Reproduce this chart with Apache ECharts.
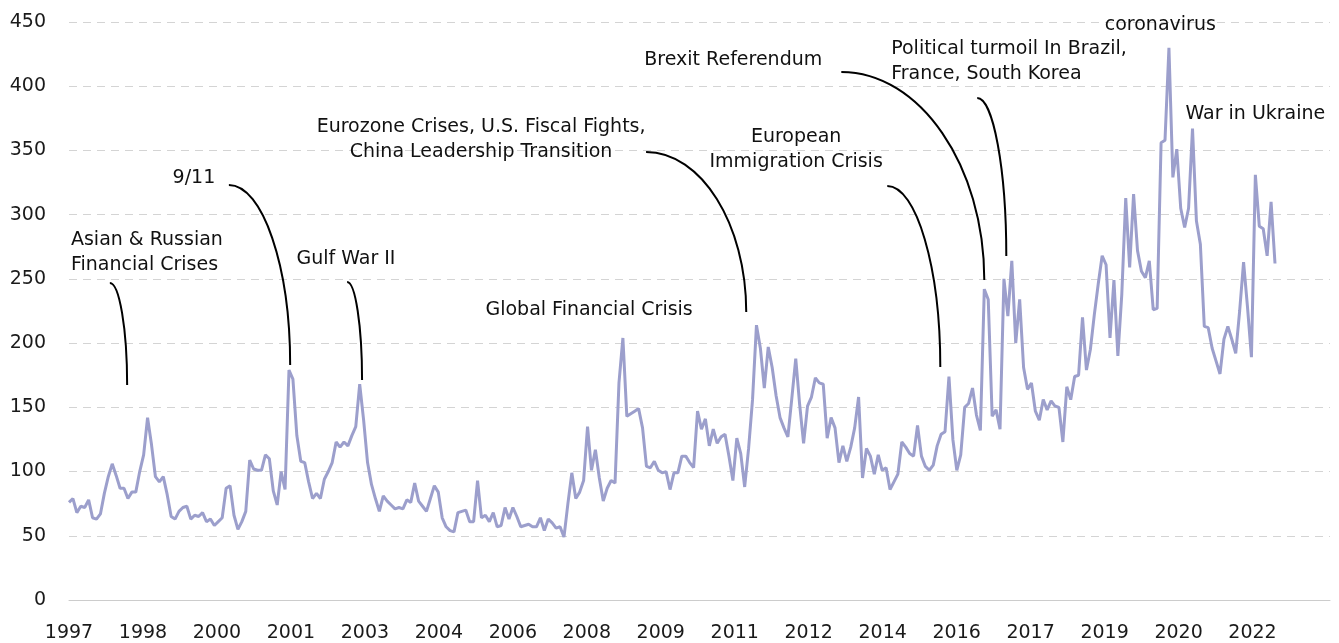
<!DOCTYPE html>
<html>
<head>
<meta charset="utf-8">
<script src="https://cdn.jsdelivr.net/npm/echarts@6/dist/echarts.min.js"></script>
<style>
  html, body { margin: 0; padding: 0; background: #fff; }
  #chart { width: 1339px; height: 643px; }
</style>
</head>
<body>
<div id="chart"></div>
<script>
// monthly index values, first entry = Jan 1997
const values = [
  76, 79, 68, 73, 72, 78, 64, 63, 67, 83,
  96, 106, 97, 87, 87, 79, 84, 84, 100, 113,
  142, 121, 96, 92, 96, 82, 65, 63, 69, 72,
  73, 63, 66, 65, 68, 61, 63, 58, 61, 64,
  87, 89, 66, 55, 61, 69, 109, 102, 101, 101,
  113, 110, 85, 74, 100, 86, 179, 172, 128, 108,
  107, 92, 79, 83, 79, 94, 100, 107, 123, 119,
  123, 120, 128, 135, 168, 140, 107, 90, 79, 69,
  81, 77, 74, 71, 72, 71, 78, 76, 91, 77,
  73, 69, 79, 89, 84, 64, 57, 54, 53, 68,
  69, 70, 61, 61, 93, 64, 66, 61, 68, 57,
  58, 72, 63, 72, 65, 57, 58, 59, 57, 57,
  64, 54, 63, 60, 56, 57, 49, 75, 99, 79,
  84, 93, 135, 101, 117, 95, 77, 87, 93, 91,
  169, 204, 143, 145, 147, 149, 134, 104, 103, 108,
  101, 99, 100, 86, 99, 99, 112, 112, 107, 103,
  147, 133, 141, 120, 133, 122, 127, 129, 112, 93,
  126, 114, 88, 118, 156, 214, 196, 165, 197, 181,
  159, 142, 134, 127, 157, 188, 152, 122, 151, 158,
  173, 169, 168, 126, 142, 134, 107, 120, 108, 119,
  134, 158, 95, 118, 112, 98, 113, 101, 103, 86,
  92, 98, 123, 119, 114, 112, 136, 112, 104, 101,
  105, 120, 129, 131, 174, 125, 101, 113, 150, 153,
  165, 144, 132, 242, 234, 143, 148, 133, 250, 221,
  264, 200, 234, 181, 164, 169, 147, 140, 156, 148,
  155, 151, 150, 123, 166, 156, 174, 175, 220, 179,
  195, 222, 246, 268, 261, 204, 249, 190, 238, 313,
  259, 316, 272, 256, 251, 264, 226, 227, 356, 358,
  430, 329, 351, 305, 290, 305, 367, 295, 277, 213,
  212, 196, 186, 176, 203, 213, 203, 192, 225, 263,
  228, 189, 331, 291, 289, 268, 310, 262
];

const tickLabels = ['1997', '1998', '2000', '2001', '2003', '2004', '2006', '2008', '2009',
  '2011', '2012', '2014', '2016', '2017', '2019', '2020', '2022'];
const tickStep = 18.83; // months between x labels

// annotations, in data units: [month index, value]
const noteTexts = [
  'Asian & Russian\nFinancial Crises',
  '9/11',
  'Gulf War II',
  'Eurozone Crises, U.S. Fiscal Fights,\nChina Leadership Transition',
  'Global Financial Crisis',
  'European\nImmigration Crisis',
  'Brexit Referendum',
  'Political turmoil In Brazil,\nFrance, South Korea',
  'coronavirus',
  'War in Ukraine'
];
const noteAt = [[0.5, 270.5], [31.8, 328.6], [70.5, 265.5], [104.9, 358.1], [132.4, 225.8],
  [185.1, 350.4], [169.1, 420.4], [209.3, 418.9], [277.8, 447.7], [302, 378.4]];
const noteAlign = ['left', 'center', 'center', 'center', 'center', 'center', 'center', 'left', 'center', 'center'];
const noteFrom = [[10.4, 246.8], [40.7, 323.1], [70.8, 247.6], [146.9, 348.8], null,
  [208.3, 322.3], [196.6, 411.1], [231.2, 390.8], null, null];
const noteTo = [[14.8, 167.4], [56.3, 183], [74.6, 171.3], [172.4, 224.2], null,
  [221.8, 181.4], [233, 249.1], [238.6, 267.8], null, null];

const font = '"DejaVu Sans", sans-serif';

let chart = echarts.init(document.getElementById('chart'));

chart.setOption({
  animation: false,
  grid: { left: 69, right: 9, top: 22, bottom: 43 },
  xAxis: {
    type: 'value',
    min: 0,
    max: 321,
    interval: tickStep,
    axisLine: { show: true, lineStyle: { color: '#cccccc', width: 1 } },
    axisTick: { show: false },
    splitLine: { show: false },
    axisLabel: {
      margin: 24,
      fontSize: 19,
      fontFamily: font,
      color: '#1a1a1a',
      showMaxLabel: false,
      formatter: function (v) {
        let k = Math.round(v / tickStep);
        return tickLabels[k] || '';
      }
    }
  },
  yAxis: {
    type: 'value',
    min: 0,
    max: 450,
    interval: 50,
    axisLine: { show: false },
    axisTick: { show: false },
    splitLine: { lineStyle: { color: '#d4d4d4', type: [8, 6], width: 1 } },
    axisLabel: { margin: 23, fontSize: 19, fontFamily: font, color: '#1a1a1a' }
  },
  series: [{
    type: 'line',
    data: values.map((v, i) => [i, v]),
    showSymbol: false,
    lineStyle: { color: '#9c9fcc', width: 3 },
    z: 3
  }]
});

function drawNotes() {
  let g = [];
  noteTexts.forEach(function (txt, k) {
    let p = chart.convertToPixel({ gridIndex: 0 }, noteAt[k]);
    g.push({
      type: 'text',
      x: p[0],
      y: p[1],
      z: 10,
      style: {
        text: txt,
        fill: '#111',
        font: '19px ' + font,
        align: noteAlign[k],
        verticalAlign: 'middle',
        lineHeight: 25
      }
    });
    if (noteFrom[k]) {
      let a = chart.convertToPixel({ gridIndex: 0 }, noteFrom[k]);
      let b = chart.convertToPixel({ gridIndex: 0 }, noteTo[k]);
      let dx = b[0] - a[0], dy = b[1] - a[1];
      g.push({
        type: 'bezierCurve',
        z: 10,
        shape: {
          x1: a[0], y1: a[1], x2: b[0], y2: b[1],
          cpx1: a[0] + dx * 0.55, cpy1: a[1],
          cpx2: b[0], cpy2: b[1] - dy * 0.55
        },
        style: { stroke: '#000', lineWidth: 2, fill: null }
      });
    }
  });
  chart.setOption({ graphic: g });
}

drawNotes();
</script>
</body>
</html>
